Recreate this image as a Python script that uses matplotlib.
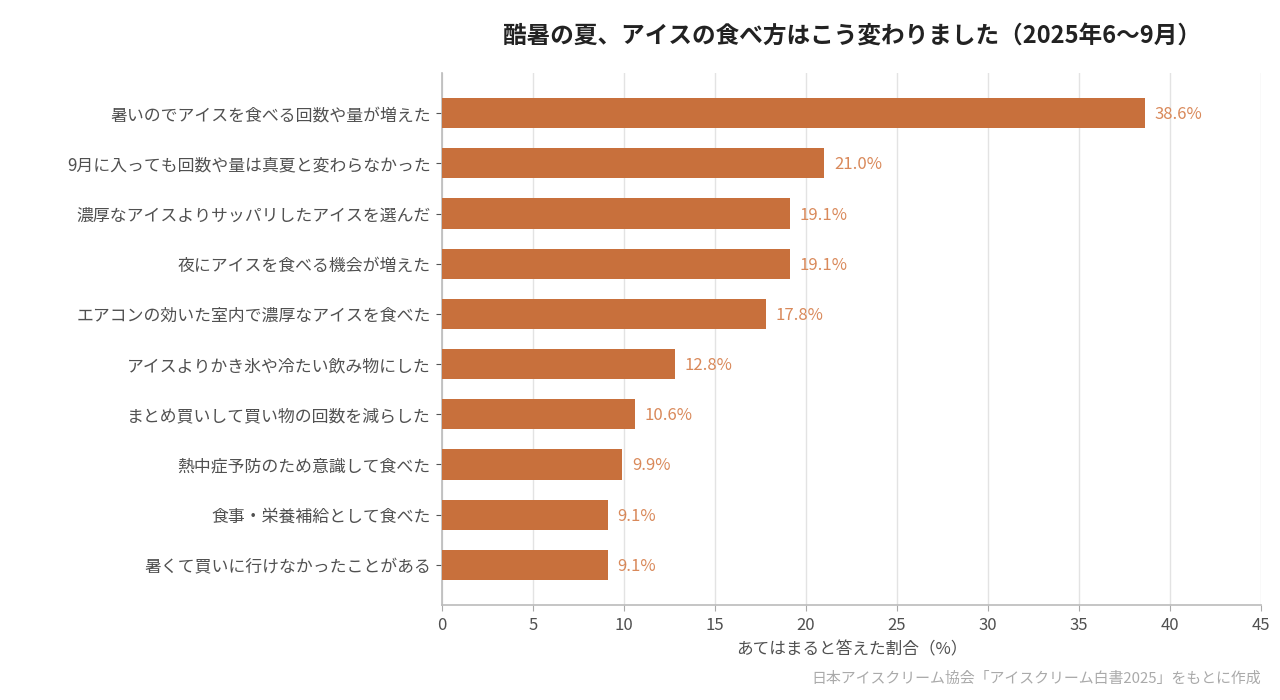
import matplotlib
matplotlib.use("Agg")
import matplotlib.pyplot as plt

plt.rcParams['font.family'] = ['Noto Sans CJK JP', 'DejaVu Sans']

labels = [
    "暑いのでアイスを食べる回数や量が増えた",
    "9月に入っても回数や量は真夏と変わらなかった",
    "濃厚なアイスよりサッパリしたアイスを選んだ",
    "夜にアイスを食べる機会が増えた",
    "エアコンの効いた室内で濃厚なアイスを食べた",
    "アイスよりかき氷や冷たい飲み物にした",
    "まとめ買いして買い物の回数を減らした",
    "熱中症予防のため意識して食べた",
    "食事・栄養補給として食べた",
    "暑くて買いに行けなかったことがある",
]
values = [38.6, 21.0, 19.1, 19.1, 17.8, 12.8, 10.6, 9.9, 9.1, 9.1]
xticks = [0, 5, 10, 15, 20, 25, 30, 35, 40, 45]

bar_color = "#C8703C"
label_color = "#D9895A"

fig = plt.figure(figsize=(12.8, 7), dpi=100)
ax = fig.add_axes([442/1280, 1 - 605/700, (1261-442)/1280, (605-73)/700])

pos = list(range(len(labels)))
ax.barh(pos, values, height=0.6, color=bar_color, zorder=3)
for p, v in zip(pos, values):
    ax.text(v + 0.55, p + 0.03, f"{v:.1f}%", va="center", ha="left",
            fontsize=12, color=label_color, zorder=4)

ax.set_ylim(len(labels) - 0.2, -0.8)
ax.set_xlim(0, 45)
ax.set_yticks(pos)
ax.set_yticklabels(labels, fontsize=12.15, color="#505050")
ax.set_xticks(xticks)
ax.set_xticklabels([str(t) for t in xticks], fontsize=12, color="#505050")
ax.set_xlabel("あてはまると答えた割合（%）", fontsize=12, color="#505050", labelpad=5)

ax.grid(axis="x", color="#e3e3e3", linewidth=1, zorder=0)
ax.grid(axis="y", visible=False)
for s in ["top", "right"]:
    ax.spines[s].set_visible(False)
for s in ["left", "bottom"]:
    ax.spines[s].set_color("#bbbbbb")
    ax.spines[s].set_linewidth(1.2)
ax.tick_params(axis="y", length=4, color="#555555", pad=4)
ax.tick_params(axis="x", length=4, color="#aaaaaa", pad=5)

fig.text((442 + 1261) / 2 / 1280, 1 - 37/700,
         "酷暑の夏、アイスの食べ方はこう変わりました（2025年6〜9月）",
         ha="center", va="center", fontsize=17, fontweight="bold", color="#222222")
fig.text(1261/1280, 1 - 679/700,
         "日本アイスクリーム協会「アイスクリーム白書2025」をもとに作成",
         ha="right", va="center", fontsize=10.75, color="#aaaaaa")

fig.savefig("out.png", dpi=100)
